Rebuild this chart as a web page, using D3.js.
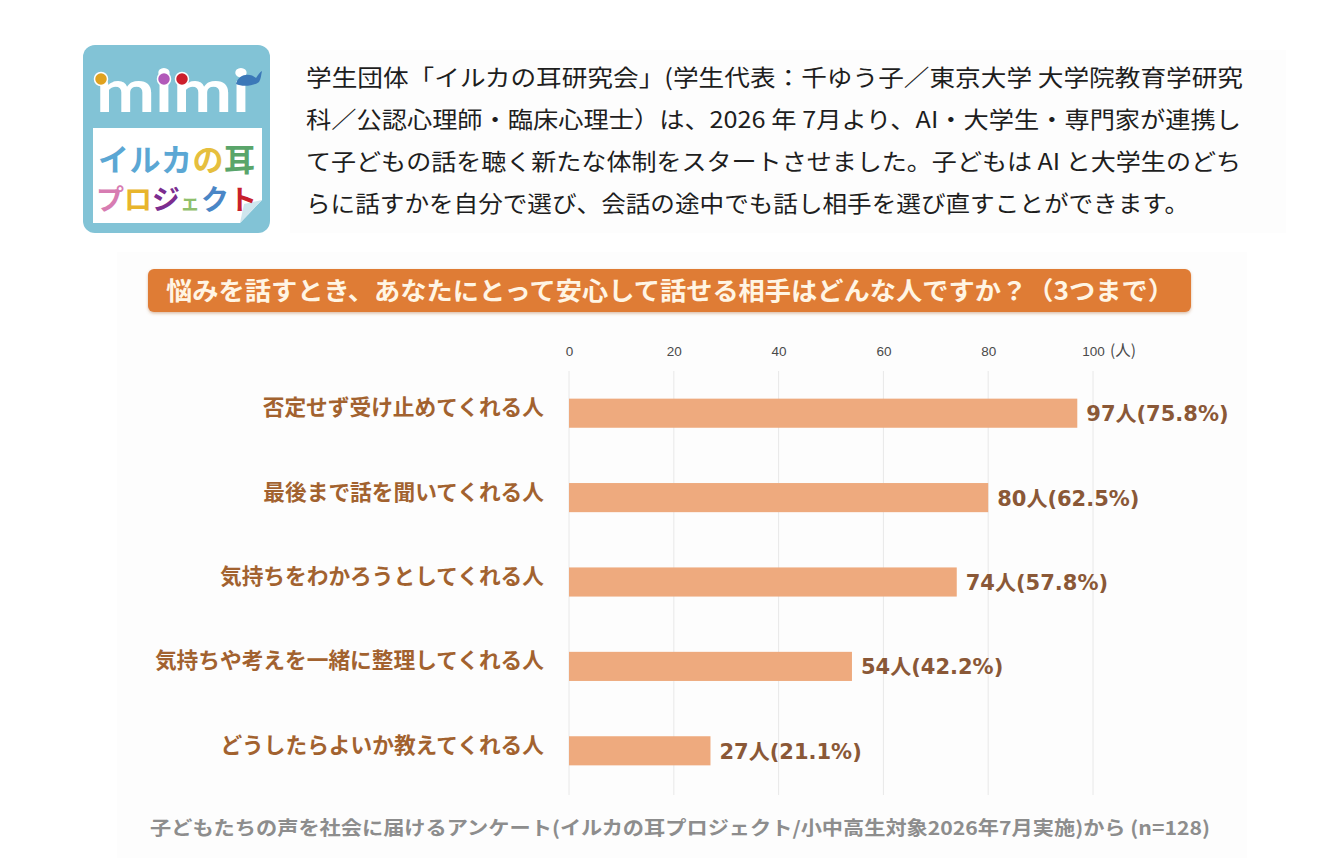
<!DOCTYPE html>
<html>
<head>
<meta charset="utf-8">
<script src="https://cdn.jsdelivr.net/npm/d3@7"></script>
<style>
  body { margin: 0; background: #ffffff; }
  svg { display: block; }
</style>
</head>
<body>
<div id="chart"></div>
<script>
// data
var categories = [
  "否定せず受け止めてくれる人",
  "最後まで話を聞いてくれる人",
  "気持ちをわかろうとしてくれる人",
  "気持ちや考えを一緒に整理してくれる人",
  "どうしたらよいか教えてくれる人"
];
var counts = [97, 80, 74, 54, 27];
var percents = [75.8, 62.5, 57.8, 42.2, 21.1];
var tickValues = [0, 20, 40, 60, 80, 100];

var titleText = "悩みを話すとき、あなたにとって安心して話せる相手はどんな人ですか？（3つまで）";
var footerText = "子どもたちの声を社会に届けるアンケート(イルカの耳プロジェクト/小中高生対象2026年7月実施)から (n=128)";
var introLines = [
  "学生団体「イルカの耳研究会」(学生代表：千ゆう子／東京大学 大学院教育学研究",
  "科／公認心理師・臨床心理士）は、2026 年 7月より、AI・大学生・専門家が連携し",
  "て子どもの話を聴く新たな体制をスタートさせました。子どもは AI と大学生のどち",
  "らに話すかを自分で選び、会話の途中でも話し相手を選び直すことができます。"
];
var logoLine1 = ["イ", "ル", "カ", "の", "耳"];
var logoLine1Colors = ["#5ba7d4", "#5ba7d4", "#5ba7d4", "#e6bf3e", "#5aa56a"];
var logoLine2 = ["プ", "ロ", "ジ", "ェ", "ク", "ト"];
var logoLine2Colors = ["#d77cb2", "#e8b52c", "#7b2d8f", "#8fbf6c", "#4a86c6", "#c8202c"];

var jp = "'Noto Sans CJK JP', 'Noto Sans', sans-serif";
var num = "'DejaVu Sans', 'Noto Sans CJK JP', sans-serif";

var svg = d3.select("#chart")
  .append("svg")
  .attr("width", 1330)
  .attr("height", 860);

var defs = svg.append("defs");
var shadow = defs.append("filter").attr("id", "bannerShadow")
  .attr("x", "-5%").attr("y", "-30%").attr("width", "110%").attr("height", "160%");
shadow.append("feDropShadow")
  .attr("dx", 0).attr("dy", 1.5).attr("stdDeviation", 1.8)
  .attr("flood-color", "#b0703c").attr("flood-opacity", 0.45);

// very faint off-white panels behind the text block and the chart
svg.append("rect").attr("x", 290).attr("y", 50).attr("width", 996).attr("height", 183).attr("fill", "#fdfdfd");
svg.append("rect").attr("x", 117).attr("y", 252).attr("width", 1130).attr("height", 606).attr("fill", "#fdfdfd");

//---------------- logo ----------------
var logo = svg.append("g");
logo.append("rect")
  .attr("x", 83).attr("y", 45).attr("width", 187).attr("height", 188)
  .attr("rx", 12).attr("fill", "#82c3d6");
// white panel with folded corner
logo.append("path")
  .attr("d", "M93,128 L262,128 L262,200 L240,223 L93,223 Z")
  .attr("fill", "#ffffff");
logo.append("path")
  .attr("d", "M262,200 L240,223 L244,204 Z")
  .attr("fill", "#cfe6ee");

logo.append("text")
  .attr("x", 96).attr("y", 112)
  .attr("font-family", "'Lato', 'DejaVu Sans', sans-serif")
  .attr("font-weight", 700)
  .attr("font-size", 60)
  .attr("fill", "#ffffff")
  .attr("textLength", 154)
  .attr("lengthAdjust", "spacingAndGlyphs")
  .text("mimi");

var dots = [[101, 79, "#e0a21f"], [164, 79, "#b25ab9"], [182, 79, "#cc1f2c"]];
dots.forEach(function (d) {
  logo.append("circle")
    .attr("cx", d[0]).attr("cy", d[1]).attr("r", 6.5)
    .attr("fill", d[2]).attr("stroke", "#ffffff").attr("stroke-width", 1.5);
});
// little whale
logo.append("path")
  .attr("d", "M236,84 C238,74 250,72 256,78 C258,75 260,72 262,71 C261,75 261,79 259,82 C254,86 242,87 236,84 Z")
  .attr("fill", "#3b78b8");

// logo words, one glyph per text so each keeps its own colour
logoLine1.forEach(function (c, i) {
  logo.append("text")
    .attr("x", 98 + i * 31.5).attr("y", 171)
    .attr("font-family", jp).attr("font-weight", 700).attr("font-size", 31)
    .attr("fill", logoLine1Colors[i])
    .text(c);
});
var line2Sizes = [28, 28, 28, 20, 28, 28];
var line2X = [96, 124, 152, 180, 201, 229];
logoLine2.forEach(function (c, i) {
  logo.append("text")
    .attr("x", line2X[i]).attr("y", 210)
    .attr("font-family", jp).attr("font-weight", 700).attr("font-size", line2Sizes[i])
    .attr("fill", logoLine2Colors[i])
    .text(c);
});

//---------------- intro paragraph ----------------
var introWidths = [937, 935, 935, 883];
introLines.forEach(function (line, i) {
  svg.append("text")
    .attr("x", 306)
    .attr("y", 86 + i * 42)
    .attr("font-family", jp)
    .attr("font-size", 23)
    .attr("fill", "#1e1e1e")
    .attr("textLength", introWidths[i])
    .attr("lengthAdjust", "spacingAndGlyphs")
    .text(line);
});

//---------------- title banner ----------------
svg.append("rect")
  .attr("x", 148).attr("y", 269).attr("width", 1043).attr("height", 43)
  .attr("rx", 6).attr("fill", "#df7b36")
  .attr("filter", "url(#bannerShadow)");
svg.append("text")
  .attr("x", 166).attr("y", 300)
  .attr("font-family", jp).attr("font-weight", 700).attr("font-size", 25)
  .attr("fill", "#fff5e4")
  .attr("textLength", 1008)
  .attr("lengthAdjust", "spacingAndGlyphs")
  .text(titleText);

//---------------- bar chart ----------------
var xScale = d3.scaleLinear()
  .domain([0, 100])
  .range([569, 1093]);

var yScale = d3.scaleBand()
  .domain(categories)
  .range([371, 793])
  .paddingInner(0.655)
  .paddingOuter(0.3275);

// gridlines
svg.append("g")
  .selectAll("line")
  .data(tickValues)
  .enter()
  .append("line")
  .attr("x1", d => xScale(d)).attr("x2", d => xScale(d))
  .attr("y1", 371).attr("y2", 795)
  .attr("stroke", "#e8e8e8")
  .attr("stroke-width", 1);

// tick labels on top, drawn with the axis generator
var xAxis = d3.axisTop(xScale)
  .tickValues(tickValues)
  .tickSize(0)
  .tickPadding(0);
var axisG = svg.append("g")
  .attr("transform", "translate(0,356)")
  .call(xAxis);
axisG.select(".domain").remove();
axisG.selectAll("text")
  .attr("font-family", "'Liberation Sans', 'DejaVu Sans', sans-serif")
  .attr("font-size", 13.5)
  .attr("fill", "#4a4a4a");
svg.append("text")
  .attr("x", xScale(100) + 17).attr("y", 356)
  .attr("font-family", jp).attr("font-size", 15.5)
  .attr("fill", "#4a4a4a")
  .text("(人)");

var bars = categories.map(function (c, i) {
  return { cat: c, count: counts[i], pct: percents[i] };
});

svg.append("g")
  .selectAll("rect")
  .data(bars)
  .enter()
  .append("rect")
  .attr("x", xScale(0))
  .attr("y", d => yScale(d.cat))
  .attr("width", d => xScale(d.count) - xScale(0))
  .attr("height", yScale.bandwidth())
  .attr("fill", "#eeaa7e");

// value labels
svg.append("g")
  .selectAll("text")
  .data(bars)
  .enter()
  .append("text")
  .attr("x", d => xScale(d.count) + 9)
  .attr("y", d => yScale(d.cat) + yScale.bandwidth() / 2 + 8)
  .attr("font-family", num)
  .attr("font-weight", 700)
  .attr("font-size", 21)
  .attr("fill", "#8a5837")
  .text(d => d.count + "人(" + d.pct.toFixed(1) + "%)");

// category labels
svg.append("g")
  .selectAll("text")
  .data(bars)
  .enter()
  .append("text")
  .attr("x", 544)
  .attr("y", d => yScale(d.cat) + yScale.bandwidth() / 2 + 2)
  .attr("text-anchor", "end")
  .attr("font-family", jp)
  .attr("font-weight", 700)
  .attr("font-size", 21.7)
  .attr("fill", "#a2622f")
  .text(d => d.cat);

//---------------- footer ----------------
svg.append("text")
  .attr("x", 150).attr("y", 835)
  .attr("font-family", jp)
  .attr("font-weight", 700)
  .attr("font-size", 19)
  .attr("fill", "#8d8d8d")
  .attr("textLength", 1060)
  .attr("lengthAdjust", "spacingAndGlyphs")
  .text(footerText);
</script>
</body>
</html>
